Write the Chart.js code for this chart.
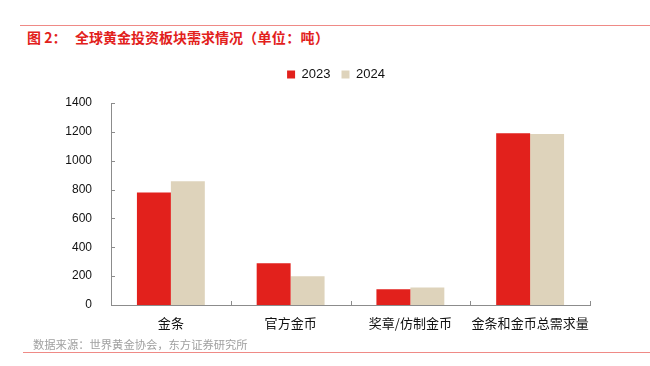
<!DOCTYPE html>
<html lang="zh">
<head>
<meta charset="UTF-8">
<title>全球黄金投资板块需求情况</title>
<script src="https://cdn.jsdelivr.net/npm/chart.js"></script>
<style>
  body { margin: 0; background: #fff; font-family: "Noto Sans CJK SC", sans-serif; }
  #wrap { position: relative; width: 650px; height: 366px; overflow: hidden; }
  #topline { position: absolute; left: 20px; right: 0; top: 25px; height: 1px; background: #ef8a86; }
  #title { position: absolute; left: 27px; top: 27px; font-size: 14px; line-height: 20px; font-weight: bold; color: #e2211c; white-space: nowrap; }
  #title .no { display: inline-block; width: 48px; }
  #title .unit { display: inline-block; width: 86px; text-align-last: justify; text-justify: inter-character; }
  #botline { position: absolute; left: 23px; right: 0; top: 352px; height: 1px; background: #ef8a86; }
  #source { position: absolute; left: 33px; top: 336px; font-size: 11.3px; line-height: 16px; color: #a0a0a0; white-space: nowrap; }
  canvas { position: absolute; left: 0; top: 0; }
</style>
</head>
<body>
<div id="wrap">
  <div id="topline"></div>
  <div id="title"><span class="no">图 2：</span>全球黄金投资板块需求情况<span class="unit">（单位：吨）</span></div>
  <canvas id="c" width="650" height="366"></canvas>
  <div id="botline"></div>
  <div id="source">数据来源：世界黄金协会，东方证券研究所</div>
</div>
<script>
// 数据（吨）
const categories = ['金条', '官方金币', '奖章/仿制金币', '金条和金币总需求量'];
const y2023 = [780, 290, 110, 1190];
const y2024 = [857, 199, 121, 1186];
const yTicks = [0, 200, 400, 600, 800, 1000, 1200, 1400];

// 图例位置微调（向右、向上）
const legendShift = {
  id: 'legendShift',
  afterLayout(chart) {
    const lg = chart.legend;
    lg.left += 41; lg.right += 41;
    lg.top -= 12; lg.bottom -= 12;
  }
};

// 坐标轴内侧小刻度
const innerTicks = {
  id: 'innerTicks',
  afterDraw(chart) {
    const ctx = chart.ctx, x = chart.scales.x, y = chart.scales.y;
    ctx.save();
    ctx.strokeStyle = '#8c8c8c';
    ctx.lineWidth = 1;
    ctx.beginPath();
    yTicks.forEach(v => {
      const py = Math.round(y.getPixelForValue(v)) + 0.5;
      ctx.moveTo(x.left, py); ctx.lineTo(x.left + 4, py);
    });
    for (let i = 0; i <= categories.length; i++) {
      const px = Math.round(x.left + (x.right - x.left) * i / categories.length) + 0.5;
      ctx.moveTo(px, y.bottom); ctx.lineTo(px, y.bottom - 4);
    }
    ctx.stroke();
    ctx.restore();
  }
};

new Chart(document.getElementById('c'), {
  type: 'bar',
  data: {
    labels: categories,
    datasets: [
      { label: '2023', data: y2023, backgroundColor: '#e2211c' },
      { label: '2024', data: y2024, backgroundColor: '#ded3bb' }
    ]
  },
  options: {
    responsive: false,
    animation: false,
    layout: { padding: { left: 0, right: 60, top: 69, bottom: 21 } },
    datasets: { bar: { categoryPercentage: 0.567, barPercentage: 1 } },
    plugins: {
      legend: {
        position: 'top',
        labels: {
          boxWidth: 8, boxHeight: 8, padding: 11,
          color: '#111',
          font: { family: '"Liberation Sans", sans-serif', size: 13 }
        }
      },
      tooltip: { enabled: false }
    },
    scales: {
      x: {
        offset: true,
        grid: { display: false, offset: true },
        border: { display: true, color: '#8c8c8c' },
        ticks: {
          color: '#111', padding: 2,
          autoSkip: false, maxRotation: 0, minRotation: 0,
          font: { family: '"Noto Sans CJK SC", sans-serif', size: 13 }
        },
        afterFit(s) { s.height = 40; }
      },
      y: {
        min: 0, max: 1400,
        grid: { display: false },
        border: { display: true, color: '#8c8c8c' },
        afterBuildTicks(s) { s.ticks = yTicks.map(v => ({ value: v })); },
        ticks: {
          color: '#111', padding: 11,
          callback: v => String(v),
          font: { family: '"Liberation Sans", sans-serif', size: 12 }
        },
        afterFit(s) { s.width = 111; }
      }
    }
  },
  plugins: [innerTicks, legendShift]
});
</script>
</body>
</html>
